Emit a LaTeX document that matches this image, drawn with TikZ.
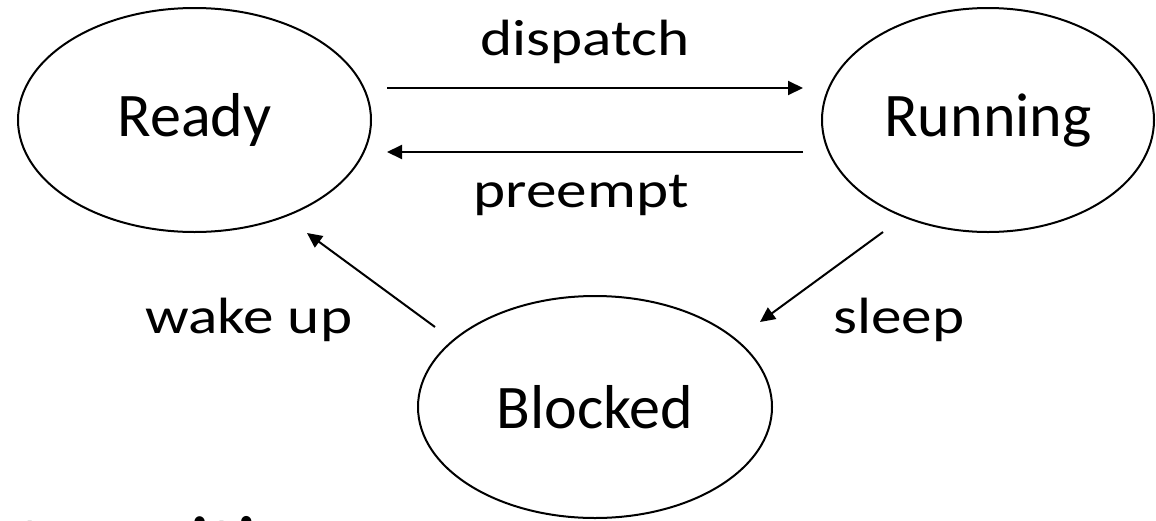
\documentclass[tikz,border=0pt]{standalone}
\usepackage{fontspec}
\setmainfont{Carlito}
\newfontfamily\lblfont{Carlito}[FakeStretch=1.2]
\usetikzlibrary{arrows.meta,shapes.geometric}
\tikzset{
  stnode/.style={draw,ellipse,line width=1pt,inner sep=0pt,font=\fontsize{31}{36}\selectfont},
  tr/.style={line width=1pt,-{Triangle[length=7.5pt,width=7pt]}},
  lbl/.style={inner sep=0pt,font=\lblfont\fontsize{25.5}{30}\selectfont}
}
\begin{document}
\begin{tikzpicture}[x=0.5pt,y=-0.5pt]
\useasboundingbox (0,0) rectangle (1156,520);
\node[stnode,minimum width=176.5pt,minimum height=112pt] (ready) at (194.5,120) {Ready};
\node[stnode,minimum width=166pt,minimum height=112pt] (running) at (988,120) {Running};
\node[stnode,minimum width=177pt,minimum height=111pt] (blocked) at (595,407) {Blocked};
\coordinate (d1) at (387,88);
\coordinate (d2) at (803,88);
\coordinate (p1) at (803,152);
\coordinate (p2) at (387,152);
\coordinate (w1) at (435,327);
\coordinate (w2) at (307,233);
\coordinate (s1) at (883,232);
\coordinate (s2) at (760,322);
\draw[tr] (d1) -- (d2);
\draw[tr] (p1) -- (p2);
\draw[tr] (w1) -- (w2);
\draw[tr] (s1) -- (s2);
\node[lbl,anchor=base] (ldisp) at (585,55) {dispatch};
\node[lbl,anchor=base] (lpre) at (581,207) {preempt};
\node[lbl,anchor=base west] (lwake) at (145,333) {wake up};
\node[lbl,anchor=base west] (lsleep) at (833,333) {sleep};
\node[inner sep=0pt,anchor=base west,font=\fontsize{42}{50}\selectfont] (ttl) at (17,574) {transitions};
\end{tikzpicture}
\end{document}
